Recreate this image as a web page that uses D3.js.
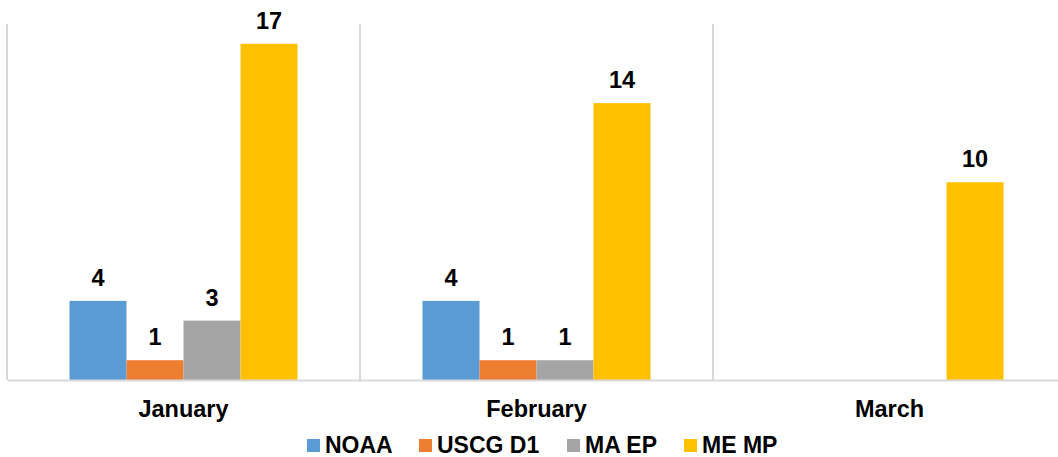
<!DOCTYPE html>
<html>
<head>
<meta charset="utf-8">
<script src="https://cdn.jsdelivr.net/npm/d3@7"></script>
<style>
  html, body { margin: 0; padding: 0; background: #fff; }
  svg { display: block; }
  text { font-family: "Liberation Sans", Arial, sans-serif; font-weight: bold; fill: #000; }
</style>
</head>
<body>
<svg id="chart" width="1058" height="457"></svg>
<script>
// Monthly counts by reporting source
const months = ["January", "February", "March"];
const seriesNames = ["NOAA", "USCG D1", "MA EP", "ME MP"];
const noaa = [4, 4, null];
const uscgD1 = [1, 1, null];
const maEp = [3, 1, null];
const meMp = [17, 14, 10];
const seriesColors = ["#5B9BD5", "#ED7D31", "#A5A5A5", "#FFC000"];

const seriesValues = [noaa, uscgD1, maEp, meMp];

const svg = d3.select("#chart");
const plot = { left: 7, right: 1066, top: 24, bottom: 380 };

const x0 = d3.scaleBand().domain(months).range([plot.left, plot.right]).padding(0);
const groupW = x0.bandwidth();
const x1 = d3.scaleBand().domain(seriesNames)
  .range([groupW * 0.177, groupW * 0.823]).padding(0);
const y = d3.scaleLinear().domain([0, 18]).range([plot.bottom, plot.top]);

const grid = "#d9d9d9";

// vertical category separators
const seps = months.map(m => x0(m)).concat([plot.right]);
svg.append("g").selectAll("line").data(seps).join("line")
  .attr("x1", d => d).attr("x2", d => d)
  .attr("y1", plot.top).attr("y2", plot.bottom)
  .attr("stroke", grid).attr("stroke-width", 2);

// bars with value labels
const groups = svg.append("g").selectAll("g").data(months).join("g")
  .attr("transform", m => `translate(${x0(m)},0)`);

groups.each(function(m, mi) {
  const g = d3.select(this);
  seriesNames.forEach((s, si) => {
    const v = seriesValues[si][mi];
    if (v == null) return;
    g.append("rect")
      .attr("x", x1(s)).attr("width", x1.bandwidth())
      .attr("y", y(v)).attr("height", y(0) - y(v))
      .attr("fill", seriesColors[si]);
    g.append("text")
      .attr("x", x1(s) + x1.bandwidth() / 2)
      .attr("y", y(v) - 15)
      .attr("text-anchor", "middle")
      .attr("font-size", 23.5)
      .text(v);
  });
});

// baseline axis
const xAxis = d3.axisBottom(x0).tickSize(0).tickPadding(0);
const ax = svg.append("g").attr("transform", `translate(0,${plot.bottom})`).call(xAxis);
ax.select(".domain").attr("stroke", grid).attr("stroke-width", 2);
ax.selectAll("text").attr("font-size", 23.5).attr("dy", null).attr("y", 37)
  .attr("fill", "#000").style("font-family", "'Liberation Sans', Arial, sans-serif").style("font-weight", "bold");

// legend
const legendX = [307, 419, 567, 684];
const leg = svg.append("g").selectAll("g").data(seriesNames).join("g")
  .attr("transform", (d, i) => `translate(${legendX[i]},439)`);
leg.append("rect").attr("width", 13).attr("height", 13)
  .attr("fill", (d, i) => seriesColors[i]);
leg.append("text").attr("x", 18).attr("y", 14).attr("font-size", 23).text(d => d);
</script>
</body>
</html>
